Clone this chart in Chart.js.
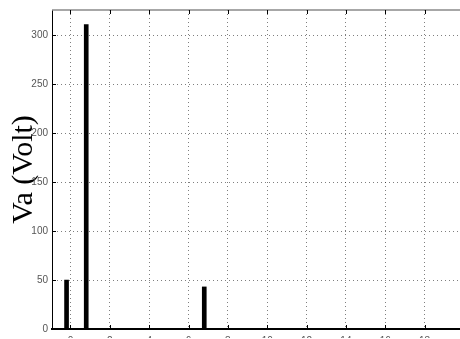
<!DOCTYPE html>
<html>
<head>
<meta charset="utf-8">
<script src="https://cdn.jsdelivr.net/npm/chart.js@4"></script>
<style>
  html, body { margin: 0; padding: 0; background: #fff; overflow: hidden; }
  #wrap { width: 460px; height: 339px; }
</style>
</head>
<body>
<div id="wrap"><canvas id="vaChart"></canvas></div>
<script>
'use strict';

// harmonic order (as plotted) and amplitude
const harmonics = [-0.2, 0.8, 6.8];
const voltages = [50, 311, 43];
const xTicks = [0, 2, 4, 6, 8, 10, 12, 14, 16, 18];
const yTicks = [0, 50, 100, 150, 200, 250, 300];

const frame = {
    id: 'frame',
    afterDraw(chart) {
        const ctx = chart.ctx;
        const a = chart.chartArea;
        const x = chart.scales.x, y = chart.scales.y;
        ctx.save();
        ctx.strokeStyle = '#8a8a8a';
        ctx.lineWidth = 1.5;
        ctx.beginPath();
        ctx.moveTo(a.left, a.top);
        ctx.lineTo(a.right, a.top);
        ctx.stroke();
        ctx.strokeStyle = '#000';
        ctx.lineWidth = 1;
        ctx.beginPath();
        xTicks.forEach(v => {
            const px = Math.round(x.getPixelForValue(v)) + 0.5;
            ctx.moveTo(px, a.bottom); ctx.lineTo(px, a.bottom - 4);
            ctx.moveTo(px, a.top); ctx.lineTo(px, a.top + 4);
        });
        yTicks.forEach(v => {
            const py = Math.round(y.getPixelForValue(v)) + 0.5;
            ctx.moveTo(a.left, py); ctx.lineTo(a.left + 4, py);
        });
        ctx.stroke();
        ctx.restore();
    }
};

const ctx = document.getElementById('vaChart').getContext('2d');
new Chart(ctx, {
    type: 'bar',
    data: {
        datasets: [{
            data: harmonics.map((h, i) => ({ x: h, y: voltages[i] })),
            backgroundColor: '#000',
            borderWidth: 0,
            barThickness: 4
        }]
    },
    options: {
        responsive: true,
        maintainAspectRatio: false,
        animation: false,
        layout: { padding: { top: 7, right: 0, left: 0, bottom: 0 } },
        plugins: { legend: { display: false }, tooltip: { enabled: false } },
        scales: {
            x: {
                type: 'linear',
                offset: false,
                min: -0.94,
                max: 19.8,
                afterBuildTicks: s => { s.ticks = xTicks.map(v => ({ value: v })); },
                afterFit: s => { s.height = 9; },
                grid: { color: 'rgba(0,0,0,0.5)', tickLength: 0, drawTicks: false, offset: false },
                border: { color: '#000', width: 2, dash: [1, 3] },
                ticks: { color: '#555', font: { family: 'Liberation Sans', size: 10 }, padding: 6, maxRotation: 0 }
            },
            y: {
                min: 0,
                max: 326,
                afterBuildTicks: s => { s.ticks = yTicks.map(v => ({ value: v })); },
                afterFit: s => { s.width = 52; },
                grid: { color: 'rgba(0,0,0,0.5)', tickLength: 0, drawTicks: false },
                border: { color: '#000', width: 1, dash: [1, 3] },
                ticks: { color: '#555', font: { family: 'Liberation Sans', size: 10 }, padding: 4 },
                title: {
                    display: true,
                    text: 'Va (Volt)',
                    color: '#000',
                    font: { family: 'Liberation Serif', size: 30 },
                    padding: { top: 6, bottom: 0 }
                }
            }
        }
    },
    plugins: [frame]
});
</script>
</body>
</html>
